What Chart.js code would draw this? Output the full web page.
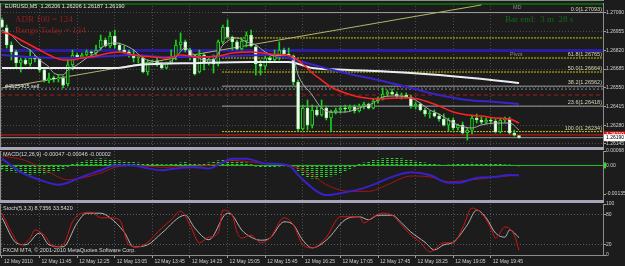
<!DOCTYPE html>
<html>
<head>
<meta charset="utf-8">
<script src="https://cdn.jsdelivr.net/npm/chart.js@4.4.0/dist/chart.umd.min.js"></script>
<style>
    html, body { margin: 0; padding: 0; background: #1c1c1c; }
    #wrap { position: relative; width: 625px; height: 266px; overflow: hidden; }
    canvas { position: absolute; left: 0; top: 0; }
</style>
</head>
<body>
<div id="wrap">
    <canvas id="main" width="625" height="266"></canvas>
    <canvas id="macd" width="625" height="266"></canvas>
    <canvas id="stoch" width="625" height="266"></canvas>
</div>
<script>
const opens = [
    1.27040, 1.26982, 1.26859, 1.26809, 1.26729, 1.26751, 1.26722, 1.26765, 1.26758, 1.26679,
    1.26606, 1.26621, 1.26614, 1.26621, 1.26578, 1.26715, 1.26787, 1.26772, 1.26787, 1.26809,
    1.26801, 1.26837, 1.26895, 1.26852, 1.26924, 1.26859, 1.26823, 1.26809, 1.26780, 1.26765,
    1.26765, 1.26664, 1.26736, 1.26744, 1.26715, 1.26693, 1.26729, 1.26765, 1.26859, 1.26881,
    1.26823, 1.26765, 1.26664, 1.26787, 1.26729, 1.26758, 1.26722, 1.26881, 1.26989, 1.26917,
    1.26881, 1.26830, 1.26888, 1.26931, 1.26845, 1.26722, 1.26707, 1.26765, 1.26751, 1.26780,
    1.26823, 1.26794, 1.26780, 1.26592, 1.26253, 1.26404, 1.26281, 1.26390, 1.26354, 1.26404,
    1.26332, 1.26375, 1.26390, 1.26404, 1.26397, 1.26411, 1.26383, 1.26419, 1.26433, 1.26404,
    1.26455, 1.26476, 1.26505, 1.26520, 1.26505, 1.26491, 1.26498, 1.26484, 1.26419, 1.26433,
    1.26390, 1.26361, 1.26368, 1.26346, 1.26325, 1.26281, 1.26318, 1.26260, 1.26281, 1.26224,
    1.26245, 1.26332, 1.26318, 1.26303, 1.26318, 1.26310, 1.26231, 1.26318, 1.26325, 1.26224,
    1.26206
];
const highs = [
    1.27054, 1.27003, 1.26881, 1.26823, 1.26765, 1.26765, 1.26823, 1.26787, 1.26772, 1.26693,
    1.26657, 1.26635, 1.26642, 1.26635, 1.26751, 1.26823, 1.26801, 1.26801, 1.26823, 1.26816,
    1.26859, 1.26931, 1.26910, 1.26953, 1.26967, 1.26874, 1.26852, 1.26823, 1.26823, 1.26787,
    1.26772, 1.26751, 1.26751, 1.26765, 1.26736, 1.26736, 1.26823, 1.26895, 1.26946, 1.26895,
    1.26837, 1.26787, 1.26823, 1.26801, 1.26772, 1.26787, 1.26895, 1.27003, 1.27040, 1.26924,
    1.26895, 1.26910, 1.26953, 1.26967, 1.26859, 1.26751, 1.26787, 1.26794, 1.26823, 1.26881,
    1.26837, 1.26837, 1.26787, 1.26606, 1.26426, 1.26462, 1.26426, 1.26419, 1.26462, 1.26419,
    1.26390, 1.26404, 1.26419, 1.26426, 1.26426, 1.26426, 1.26433, 1.26448, 1.26440, 1.26469,
    1.26484, 1.26549, 1.26534, 1.26541, 1.26520, 1.26513, 1.26513, 1.26498, 1.26448, 1.26440,
    1.26404, 1.26383, 1.26390, 1.26361, 1.26361, 1.26332, 1.26332, 1.26289, 1.26303, 1.26260,
    1.26354, 1.26361, 1.26339, 1.26332, 1.26332, 1.26325, 1.26332, 1.26339, 1.26339, 1.26245,
    1.26206
];
const lows = [
    1.26982, 1.26837, 1.26751, 1.26693, 1.26664, 1.26715, 1.26707, 1.26736, 1.26664, 1.26592,
    1.26585, 1.26592, 1.26592, 1.26549, 1.26563, 1.26679, 1.26765, 1.26765, 1.26780, 1.26787,
    1.26787, 1.26823, 1.26845, 1.26837, 1.26837, 1.26809, 1.26801, 1.26772, 1.26736, 1.26729,
    1.26657, 1.26642, 1.26715, 1.26707, 1.26686, 1.26686, 1.26722, 1.26751, 1.26823, 1.26809,
    1.26751, 1.26642, 1.26657, 1.26679, 1.26715, 1.26657, 1.26707, 1.26866, 1.26910, 1.26823,
    1.26823, 1.26823, 1.26845, 1.26845, 1.26642, 1.26642, 1.26679, 1.26729, 1.26736, 1.26751,
    1.26780, 1.26780, 1.26570, 1.26238, 1.26245, 1.26245, 1.26260, 1.26346, 1.26346, 1.26318,
    1.26231, 1.26361, 1.26368, 1.26375, 1.26383, 1.26368, 1.26375, 1.26397, 1.26397, 1.26397,
    1.26440, 1.26462, 1.26491, 1.26498, 1.26476, 1.26469, 1.26476, 1.26404, 1.26397, 1.26383,
    1.26346, 1.26332, 1.26339, 1.26310, 1.26274, 1.26238, 1.26245, 1.26245, 1.26217, 1.26173,
    1.26217, 1.26296, 1.26289, 1.26289, 1.26289, 1.26224, 1.26224, 1.26303, 1.26217, 1.26202,
    1.26187
];
const closes = [
    1.26989, 1.26859, 1.26809, 1.26729, 1.26751, 1.26722, 1.26765, 1.26758, 1.26679, 1.26606,
    1.26621, 1.26614, 1.26621, 1.26570, 1.26715, 1.26787, 1.26772, 1.26787, 1.26809, 1.26801,
    1.26823, 1.26895, 1.26852, 1.26924, 1.26859, 1.26823, 1.26809, 1.26780, 1.26765, 1.26772,
    1.26664, 1.26736, 1.26744, 1.26715, 1.26693, 1.26729, 1.26765, 1.26859, 1.26881, 1.26823,
    1.26765, 1.26650, 1.26787, 1.26729, 1.26758, 1.26722, 1.26881, 1.26989, 1.26917, 1.26881,
    1.26830, 1.26888, 1.26931, 1.26852, 1.26722, 1.26707, 1.26765, 1.26751, 1.26787, 1.26823,
    1.26794, 1.26787, 1.26592, 1.26253, 1.26404, 1.26281, 1.26390, 1.26354, 1.26404, 1.26332,
    1.26375, 1.26390, 1.26404, 1.26397, 1.26411, 1.26383, 1.26419, 1.26433, 1.26404, 1.26455,
    1.26476, 1.26505, 1.26520, 1.26505, 1.26491, 1.26498, 1.26484, 1.26419, 1.26433, 1.26390,
    1.26361, 1.26368, 1.26346, 1.26325, 1.26281, 1.26318, 1.26260, 1.26281, 1.26224, 1.26245,
    1.26332, 1.26318, 1.26303, 1.26318, 1.26310, 1.26231, 1.26318, 1.26325, 1.26224, 1.26209,
    1.26190
];

// moving averages and drawn lines, as [bar, price]
const redMa = [
    [0, 1.26953], [2, 1.26931], [4, 1.26895], [6, 1.26859], [8, 1.26823], [10, 1.26787],
    [13, 1.26751], [15, 1.26751], [17, 1.26765], [20, 1.26780], [23, 1.26801], [25, 1.26809],
    [28, 1.26787], [32, 1.26772], [35, 1.26765], [38, 1.26787], [42, 1.26772], [46, 1.26780],
    [49, 1.26801], [53, 1.26809], [57, 1.26794], [60, 1.26787], [62, 1.26772], [64, 1.26722],
    [66, 1.26657], [68, 1.26606], [70, 1.26556], [73, 1.26513], [76, 1.26484], [80, 1.26469],
    [84, 1.26476], [87, 1.26476], [90, 1.26455], [93, 1.26419], [96, 1.26375], [99, 1.26354],
    [102, 1.26346], [105, 1.26332], [108, 1.26325], [110, 1.26296]
];
const blueMa = [
    [0, 1.26787], [6, 1.26772], [13, 1.26765], [20, 1.26772], [28, 1.26787], [35, 1.26772],
    [42, 1.26772], [49, 1.26780], [57, 1.26787], [60, 1.26772], [64, 1.26736], [68, 1.26700],
    [73, 1.26657], [80, 1.26606], [87, 1.26549], [93, 1.26498], [99, 1.26462], [105, 1.26448],
    [110, 1.26433]
];
const grayMa = [
    [0, 1.26967], [2, 1.26931], [4, 1.26859], [6, 1.26823], [8, 1.26751], [10, 1.26700],
    [11, 1.26657], [13, 1.26643], [14, 1.26679], [16, 1.26715], [18, 1.26765], [20, 1.26801],
    [22, 1.26859], [24, 1.26874], [26, 1.26859], [28, 1.26823], [30, 1.26765], [33, 1.26736],
    [35, 1.26729], [37, 1.26772], [39, 1.26838], [41, 1.26787], [43, 1.26751], [45, 1.26751],
    [47, 1.26859], [50, 1.26910], [52, 1.26881], [54, 1.26859], [56, 1.26809], [58, 1.26780],
    [60, 1.26787], [62, 1.26765], [63, 1.26643], [66, 1.26498], [68, 1.26404], [70, 1.26375],
    [73, 1.26375], [76, 1.26404], [79, 1.26440], [81, 1.26484], [84, 1.26491], [87, 1.26476],
    [89, 1.26440], [91, 1.26390], [93, 1.26361], [95, 1.26318], [97, 1.26282], [100, 1.26260],
    [102, 1.26282], [105, 1.26296], [108, 1.26296], [110, 1.26245]
];
const whiteLine = [
    [0, 1.26693], [24, 1.26693], [29, 1.26715], [42, 1.26729], [53, 1.26736], [61, 1.26736],
    [66, 1.26693], [74, 1.26679], [87, 1.26657], [100, 1.26621], [110, 1.26585]
];
const trendLine = [[0, 1.26549], [102, 1.27148]];

const priceTicks = [1.27090, 1.26955, 1.26820, 1.26685, 1.26550, 1.26415, 1.26280, 1.26145];
const fiboStart = 46.8;
const fiboLevels = [1.27093, 1.26910, 1.26765, 1.26664, 1.26562, 1.26418, 1.26234];
const fiboNames = ["0.0(1.27093)", "", "61.8(1.26765)", "50.0(1.26664)", "38.2(1.26562)", "23.6(1.26418)", "100.0(1.26234)"];
const topLevel = 1.27155;
const pivotLevel = 1.26820;
const orderLevel = 1.26541;
const stopLevel = 1.26498;
const askPrice = 1.26210;
const bidPrice = 1.26190;

const macdHist = [
    -0.00020, -0.00025, -0.00030, -0.00032, -0.00036, -0.00040, -0.00042, -0.00040, -0.00038, -0.00040,
    -0.00036, -0.00030, -0.00025, -0.00015, -0.00005, 0.00005, 0.00012, 0.00018, 0.00022, 0.00025,
    0.00030, 0.00032, 0.00030, 0.00028, 0.00025, 0.00022, 0.00020, 0.00016, 0.00014, 0.00012,
    0.00010, 0.00008, 0.00006, 0.00005, 0.00004, 0.00003, 0.00005, 0.00008, 0.00012, 0.00014,
    0.00010, 0.00006, 0.00004, 0.00008, 0.00012, 0.00018, 0.00022, 0.00026, 0.00028, 0.00026,
    0.00022, 0.00018, 0.00012, 0.00004, -0.00004, -0.00008, -0.00010, -0.00008, -0.00006, -0.00004,
    -0.00002, -0.00004, -0.00012, -0.00030, -0.00045, -0.00055, -0.00060, -0.00062, -0.00058, -0.00055,
    -0.00050, -0.00042, -0.00035, -0.00025, -0.00015, -0.00005, 0.00005, 0.00012, 0.00018, 0.00024,
    0.00028, 0.00032, 0.00034, 0.00035, 0.00034, 0.00032, 0.00028, 0.00025, 0.00020, 0.00016,
    0.00012, 0.00008, 0.00005, 0.00002, 0.00000, 0.00002, 0.00004, 0.00006, 0.00008, 0.00010,
    0.00011, 0.00010, 0.00009, 0.00008, 0.00007, 0.00006, 0.00005, 0.00003, 0.00002, 0.00000,
    -0.00002
];
const macdMain = [
    [0, 0.00032], [4, -0.00032], [8, -0.00068], [12, -0.00091], [14, -0.00082], [17, -0.00054],
    [21, -0.00023], [24, 0], [28, 0], [30, -0.00009], [34, -0.00023], [37, -0.00014], [41, -0.00009],
    [44, -0.00014], [49, 0.00032], [52, 0.00032], [56, 0.00009], [61, 0], [63, -0.00045],
    [67, -0.00122], [69, -0.00140], [73, -0.00127], [76, -0.00113], [80, -0.00082], [83, -0.00054],
    [87, -0.00032], [91, -0.00045], [95, -0.00082], [97, -0.00082], [101, -0.00059], [105, -0.00054],
    [108, -0.00045], [110, -0.00047]
];
const macdSignal = [
    [0, 0.00045], [5, 0.00023], [10, -0.00032], [14, -0.00068], [17, -0.00059], [21, -0.00036],
    [24, -0.00009], [28, 0], [35, -0.00009], [38, -0.00005], [44, 0], [49, 0.00023], [56, 0.00009],
    [62, -0.00005], [66, -0.00045], [69, -0.00091], [74, -0.00122], [78, -0.00122], [82, -0.00091],
    [87, -0.00050], [91, -0.00054], [95, -0.00077], [100, -0.00068], [105, -0.00054], [110, -0.00046]
];
const macdTicks = [0.00068, 0, -0.00135];

const stochK = [
    [0, 82], [2, 45], [4, 20], [6, 33], [7, 49], [9, 39], [11, 16], [13, 20], [15, 65], [17, 82],
    [19, 84], [21, 73], [23, 73], [25, 69], [27, 20], [29, 16], [31, 25], [34, 53], [36, 69], [38, 86],
    [40, 59], [42, 24], [44, 35], [46, 43], [47, 88], [49, 78], [50, 45], [51, 33], [53, 39], [55, 24],
    [57, 33], [60, 73], [62, 59], [64, 20], [66, 14], [69, 35], [72, 75], [73, 75], [76, 75], [77, 63],
    [79, 75], [81, 82], [83, 78], [85, 59], [87, 39], [89, 25], [91, 6], [94, 24], [96, 24], [98, 53],
    [100, 92], [102, 82], [104, 53], [105, 33], [107, 55], [109, 39], [110, 9]
];
const stochD = [
    [0, 73], [3, 24], [5, 20], [8, 43], [10, 20], [13, 16], [16, 63], [18, 82], [21, 82], [23, 73],
    [26, 45], [28, 16], [31, 20], [34, 43], [39, 78], [41, 53], [44, 30], [48, 82], [49, 78], [51, 49],
    [53, 35], [55, 29], [57, 33], [60, 65], [62, 59], [64, 29], [66, 14], [69, 29], [73, 69], [76, 75],
    [78, 69], [80, 78], [83, 78], [85, 63], [87, 45], [90, 25], [92, 10], [94, 20], [96, 25], [99, 59],
    [101, 88], [103, 73], [105, 43], [107, 35], [108, 49], [110, 34]
];
const stochTicks = [100, 80, 20, 0];

const timeLabels = [
    "12 May 2010", "12 May 11:45", "12 May 12:25", "12 May 13:05", "12 May 13:45",
    "12 May 14:25", "12 May 15:05", "12 May 15:45", "12 May 16:25", "12 May 17:05",
    "12 May 17:45", "12 May 18:25", "12 May 19:05", "12 May 19:45"
];
const barsPerLabel = 8;

const headerText = "EURUSD,M5  1.26206 1.26206 1.26187 1.26190";
const adrText = "ADR 100 = 124";
const rangeText = "Range Today = 134";
const barEndText = "Bar end:  3 m  28 s";
const orderText = "#4525405 sell";
const macdText = "MACD(12,26,9) -0.00047 -0.00046 -0.00002";
const stochText = "Stoch(5,3,3) 8.7356 33.5420";
const copyText = "FXCM MT4, \u00a9 2001-2010 MetaQuotes Software Corp.";

const X_MIN = -0.21;
const X_MAX = 127.87;
const FAMILY = "'Liberation Sans', Arial, sans-serif";
const SMALL = "5.5px " + FAMILY;
const axisFont = { family: FAMILY, size: 5 };

function pairs(list) {
    return list.map(([x, y]) => ({ x, y }));
}

function curve(list, color, width, order = 1) {
    return {
        type: "line",
        data: pairs(list),
        borderColor: color,
        borderWidth: width,
        pointRadius: 0,
        cubicInterpolationMode: "monotone",
        order: order,
    };
}

function level(value, from, color, width, dash) {
    return {
        type: "line",
        data: [{ x: from, y: value }, { x: X_MAX, y: value }],
        borderColor: color,
        borderWidth: width,
        borderDash: dash || [],
        pointRadius: 0,
        order: 9,
    };
}

function xAxis(showLabels) {
    return {
        type: "linear",
        min: X_MIN,
        max: X_MAX,
        offset: false,
        afterBuildTicks: (s) => {
            s.ticks = timeLabels.map((t, k) => ({ value: k * barsPerLabel }));
        },
        afterFit: (s) => {
            s.height = showLabels ? 11 : 0;
            s.paddingLeft = 0;
            s.paddingRight = 0;
        },
        grid: {
            offset: false,
            color: "#4c4c4c",
            drawTicks: showLabels,
            tickLength: 3,
            tickColor: "#a0a0a0",
        },
        border: { display: false, dash: [1, 2] },
        ticks: {
            display: showLabels,
            autoSkip: false,
            maxRotation: 0,
            minRotation: 0,
            align: "start",
            labelOffset: 2,
            padding: 1,
            color: "#d0d0d0",
            font: axisFont,
            callback: (v, k) => timeLabels[k],
        },
    };
}

function yAxis(min, max, ticks, label, gridColor) {
    return {
        position: "right",
        min: min,
        max: max,
        afterBuildTicks: (s) => {
            s.ticks = ticks.map((v) => ({ value: v }));
        },
        afterFit: (s) => {
            s.width = 22;
            s.paddingTop = 0;
            s.paddingBottom = 0;
        },
        grid: {
            color: gridColor,
            drawTicks: true,
            tickLength: 3,
            tickColor: "#a0a0a0",
        },
        border: { display: false, dash: [1, 2] },
        ticks: { color: "#d0d0d0", font: axisFont, padding: 0, callback: label },
    };
}

function baseOptions(top, bottom) {
    return {
        responsive: false,
        animation: false,
        events: [],
        devicePixelRatio: 1,
        layout: { padding: { top: top, bottom: bottom, left: 1, right: 0 } },
        plugins: { legend: { display: false }, tooltip: { enabled: false } },
    };
}

function frame(ctx, a) {
    ctx.strokeStyle = "#8c8c8c";
    ctx.lineWidth = 1;
    ctx.beginPath();
    ctx.moveTo(0.5, a.top);
    ctx.lineTo(0.5, a.bottom);
    ctx.moveTo(a.right + 0.5, a.top);
    ctx.lineTo(a.right + 0.5, a.bottom);
    ctx.stroke();
}

function priceBox(ctx, y, value, bg, fg, left) {
    const py = y.getPixelForValue(value);
    ctx.fillStyle = bg;
    ctx.fillRect(left + 1, py - 3.5, 21, 7);
    ctx.fillStyle = fg;
    ctx.textAlign = "left";
    ctx.textBaseline = "middle";
    ctx.fillText(value.toFixed(5), left + 3, py);
}

function drawMain(canvas) {
    const bodies = opens.map((o, i) => ({ x: i, y: [o, closes[i]] }));
    const wicks = opens.map((o, i) => ({ x: i, y: [lows[i], highs[i]] }));
    const bodyFill = opens.map((o, i) => (closes[i] < o ? "#ffffff" : "#1c1c1c"));
    const bodyEdge = opens.map((o, i) => (closes[i] < o ? "#a8f0a8" : "#1ee01e"));

    const fiboColors = fiboNames.map((n) =>
        n.startsWith("0.0") || n.startsWith("38.2") || n.startsWith("23.6") ? "#a0a0a0" : "#c8c800"
    );

    const decor = {
        id: "mainDecor",
        afterDraw(chart) {
            const { ctx, chartArea: a, scales: { y } } = chart;
            ctx.save();
            frame(ctx, a);
            ctx.fillStyle = "#8c8c8c";
            ctx.fillRect(0, 0, a.right + 1, 1);
            ctx.fillStyle = "#a6a6ba";
            ctx.fillRect(0, a.bottom, a.right + 1, 3);

            ctx.font = SMALL;
            ctx.textAlign = "left";
            ctx.textBaseline = "middle";
            ctx.fillStyle = "#e4e4e4";
            ctx.fillText(headerText, 5, 6);
            ctx.fillText(orderText, 5, 86);
            ctx.fillStyle = "#8a8a8a";
            ctx.fillText("MD", 513, 7);
            ctx.fillText("Pivot", 510, 54);

            ctx.textAlign = "right";
            ctx.textBaseline = "bottom";
            ctx.fillStyle = "#d8d8b8";
            fiboNames.forEach((name, k) => {
                if (name) ctx.fillText(name, a.right - 1, y.getPixelForValue(fiboLevels[k]) - 0.5);
            });

            ctx.textAlign = "left";
            ctx.textBaseline = "middle";
            ctx.font = "9px 'Liberation Serif', serif";
            ctx.fillStyle = "#9a1c1c";
            ctx.fillText(adrText, 15, 20);
            ctx.fillText(rangeText, 15, 31);
            ctx.fillStyle = "#146a14";
            ctx.fillText(barEndText, 505, 20);

            ctx.font = "5px " + FAMILY;
            priceBox(ctx, y, askPrice, "#e01818", "#ffffff", a.right);
            priceBox(ctx, y, bidPrice, "#ffffff", "#000000", a.right);
            ctx.restore();
        },
    };

    const datasets = [
        level(topLevel, X_MIN, "#0e5e0e", 2),
        level(pivotLevel, X_MIN, "#2c1ca0", 3),
        level(orderLevel, X_MIN, "#8a8a8a", 1, [2, 2]),
        level(stopLevel, X_MIN, "#b01818", 1, [4, 3]),
        level(askPrice, X_MIN, "#e01818", 1),
        level(bidPrice, X_MIN, "#9a9a9a", 1),
        ...fiboLevels.map((v, k) => level(v, fiboStart, fiboColors[k], 1, fiboColors[k] === "#c8c800" ? [2, 1] : [])),
        {
            type: "line",
            data: pairs(trendLine),
            borderColor: "#b4b46c",
            borderWidth: 1,
            pointRadius: 0,
            order: 8,
        },
        {
            type: "bar",
            data: wicks,
            backgroundColor: "#1ed01e",
            barThickness: 1,
            grouped: false,
            order: 5,
        },
        {
            type: "bar",
            data: bodies,
            backgroundColor: bodyFill,
            borderColor: bodyEdge,
            borderWidth: 1,
            borderSkipped: false,
            barThickness: 3,
            minBarLength: 1,
            grouped: false,
            order: 4,
        },
        curve(whiteLine, "#ececf4", 2, 3),
        curve(blueMa, "#3a24c8", 2, 2),
        curve(grayMa, "#a8a8a8", 1, 1),
        curve(redMa, "#ff2222", 1.5, 0),
    ];

    return new Chart(canvas, {
        type: "bar",
        data: { datasets },
        options: {
            ...baseOptions(3, 119),
            scales: {
                x: xAxis(false),
                y: yAxis(1.26123, 1.27162, priceTicks, (v) => v.toFixed(5), "#4c4c4c"),
            },
        },
        plugins: [decor],
    });
}

function drawMacd(canvas) {
    const dots = document.createElement("canvas");
    dots.width = 2;
    dots.height = 2;
    const g = dots.getContext("2d");
    g.fillStyle = "#2ed42e";
    g.fillRect(0, 0, 2, 1);
    const pattern = canvas.getContext("2d").createPattern(dots, "repeat");

    const decor = {
        id: "macdDecor",
        afterDraw(chart) {
            const { ctx, chartArea: a, scales: { y } } = chart;
            ctx.save();
            frame(ctx, a);
            ctx.fillStyle = "#a6a6ba";
            ctx.fillRect(0, a.bottom, a.right + 1, 3);
            ctx.fillStyle = "#2ed42e";
            ctx.fillRect(a.right + 1, y.getPixelForValue(0) - 3, 2, 6);
            ctx.font = SMALL;
            ctx.textBaseline = "middle";
            ctx.fillStyle = "#d8d8d8";
            ctx.fillText(macdText, 3, a.top + 3);
            ctx.restore();
        },
    };

    return new Chart(canvas, {
        type: "bar",
        data: {
            datasets: [
                level(0, X_MIN, "#2ebe2e", 1),
                {
                    type: "bar",
                    data: macdHist.map((v, i) => ({ x: i, y: v })),
                    backgroundColor: pattern,
                    barThickness: 2,
                    grouped: false,
                    order: 5,
                },
                curve(macdSignal, "#a81414", 1, 1),
                curve(macdMain, "#3a20c8", 2, 0),
            ],
        },
        options: {
            ...baseOptions(151, 66),
            scales: {
                x: xAxis(false),
                y: yAxis(-0.00163, 0.00068, macdTicks, (v) => (v === 0 ? "0.00" : v.toFixed(5)), "transparent"),
            },
        },
        plugins: [decor],
    });
}

function drawStoch(canvas) {
    const decor = {
        id: "stochDecor",
        afterDraw(chart) {
            const { ctx, chartArea: a } = chart;
            ctx.save();
            frame(ctx, a);
            ctx.fillStyle = "#8c8c8c";
            ctx.fillRect(0, a.bottom, a.right + 1, 1);
            ctx.font = SMALL;
            ctx.textBaseline = "middle";
            ctx.fillStyle = "#d8d8d8";
            ctx.fillText(stochText, 3, a.top + 4);
            ctx.fillText(copyText, 3, a.bottom - 5);
            ctx.restore();
        },
    };

    const stochGrid = (c) =>
        c.tick && (c.tick.value === 80 || c.tick.value === 20) ? "#5c5c5c" : "transparent";

    return new Chart(canvas, {
        type: "line",
        data: {
            datasets: [
                curve(stochD, "#b4b4b4", 1, 1),
                curve(stochK, "#d41414", 1, 0),
            ],
        },
        options: {
            ...baseOptions(204, 0),
            scales: {
                x: xAxis(true),
                y: yAxis(0, 100, stochTicks, (v) => String(v), stochGrid),
            },
        },
        plugins: [decor],
    });
}

document.addEventListener("DOMContentLoaded", () => {
    drawMain(document.querySelector("#main"));
    drawMacd(document.querySelector("#macd"));
    drawStoch(document.querySelector("#stoch"));
});
</script>
</body>
</html>
